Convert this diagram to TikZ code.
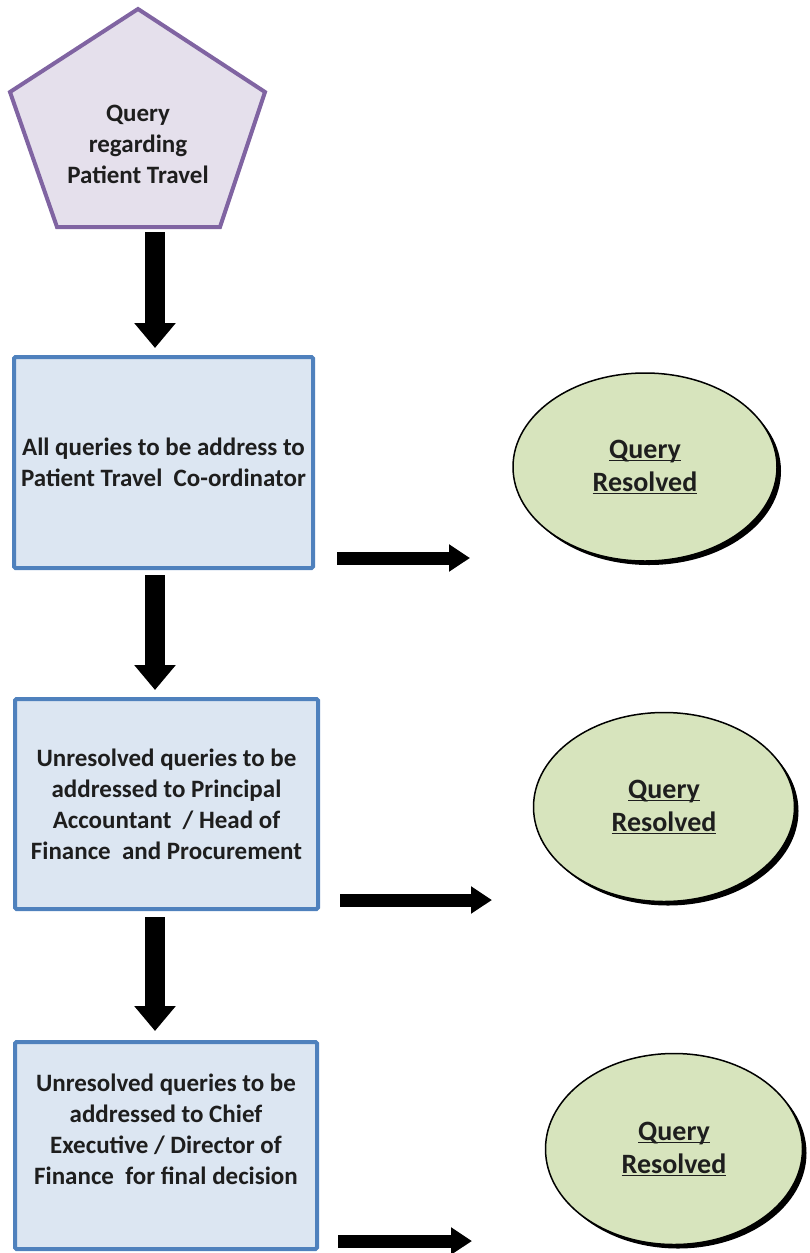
\documentclass[tikz,border=0pt]{standalone}
\usepackage{fontspec}
\setmainfont{Carlito}
\usetikzlibrary{arrows.meta,shapes.geometric,shadows}
\definecolor{pentfill}{HTML}{E5E0EC}
\definecolor{pentdraw}{HTML}{8064A2}
\definecolor{boxfill}{HTML}{DCE6F2}
\definecolor{boxdraw}{HTML}{4F81BD}
\definecolor{ellfill}{HTML}{D7E4BD}
\definecolor{txt}{HTML}{1E1E1E}
\newcommand{\uq}[1]{\underline{\raisebox{0pt}[\height][0pt]{#1}}}
\begin{document}
\begin{tikzpicture}[x=1pt,y=-1pt,
  txtstyle/.style={font=\bfseries\fontsize{25}{31}\selectfont, text=txt, align=center},
  stepbox/.style={txtstyle, draw=boxdraw, fill=boxfill, line width=4pt, rectangle, rounded corners=1.5pt, inner sep=0pt},
  resolved/.style={ellipse, draw=black, line width=1.5pt, fill=ellfill, inner sep=0pt,
    font=\bfseries\fontsize{28}{33}\selectfont, text=txt, align=center,
    drop shadow={shadow xshift=4pt, shadow yshift=-4pt, fill=black, opacity=1}},
  downarrow/.style={line width=20pt, -{Triangle[width=40pt,length=25pt]}},
  rightarrow/.style={line width=13pt, -{Triangle[width=26pt,length=21pt]}}]
\useasboundingbox (0,0) rectangle (809,1253);
\clip (0,0) rectangle (809,1253);

% start pentagon
\draw[draw=pentdraw, fill=pentfill, line width=4pt, line join=miter]
  (138,9) -- (265,92) -- (220,227) -- (57,227) -- (10,92) -- cycle;
\node[txtstyle] (pent) at (138,144) {Query\\regarding\\Patient Travel};
\coordinate (pentbot) at (138,227);

% boxes
\node[stepbox, minimum width=299pt, minimum height=211pt] (b1) at (163.5,462.5)
  {All queries to be address to\\Patient Travel\ \ Co-ordinator};
\node[stepbox, minimum width=303pt, minimum height=210pt] (b2) at (166.5,804)
  {Unresolved queries to be\\addressed to Principal\\Accountant\ \ / Head\ of\\Finance\ \ and Procurement};
\node[stepbox, minimum width=302pt, minimum height=207pt] (b3) at (166,1145.5) {};
\node[txtstyle] (t3) at (166,1129)
  {Unresolved queries to be\\addressed to Chief\\Executive / Director of\\Finance\ \ for final\ decision};

% resolved ellipses
\node[resolved, minimum width=264pt, minimum height=188pt] (e1) at (645,467) {\uq{Query}\\\uq{Resolved}};
\node[resolved, minimum width=261pt, minimum height=189pt] (e2) at (664,807) {\uq{Query}\\\uq{Resolved}};
\node[resolved, minimum width=257pt, minimum height=191pt] (e3) at (674,1149) {\uq{Query}\\\uq{Resolved}};

% down arrows
\coordinate (ax) at (155,0);
\draw[downarrow, shorten <=5pt, shorten >=7pt] (pentbot -| ax) -- (b1.north -| ax);
\draw[downarrow, shorten <=5pt, shorten >=7pt] (b1.south -| ax) -- (b2.north -| ax);
\draw[downarrow, shorten <=6pt, shorten >=9pt] (b2.south -| ax) -- (b3.north -| ax);

% right arrows
\coordinate (r1a) at (337,558);  \coordinate (r1b) at (470,558);
\coordinate (r2a) at (340,900);  \coordinate (r2b) at (492,900);
\coordinate (r3a) at (338,1241); \coordinate (r3b) at (472,1241);
\draw[rightarrow] (r1a) -- (r1b);
\draw[rightarrow] (r2a) -- (r2b);
\draw[rightarrow] (r3a) -- (r3b);
\end{tikzpicture}
\end{document}
